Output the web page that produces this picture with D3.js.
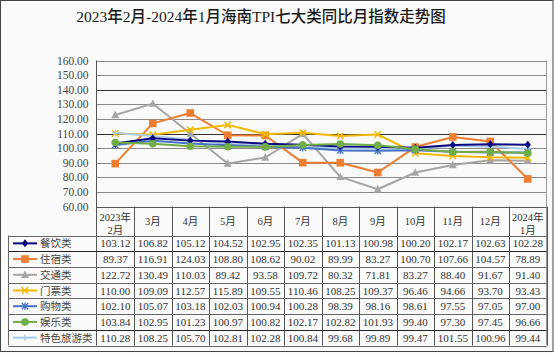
<!DOCTYPE html>
<html><head><meta charset="utf-8">
<script src="https://cdn.jsdelivr.net/npm/d3@7"></script>
<style>
html,body{margin:0;padding:0;background:#fff;}
svg{display:block;}
</style></head>
<body>
<svg id="chart" width="554" height="355"></svg>
<script>
const title = "2023年2月-2024年1月海南TPI七大类同比月指数走势图";
const months = ["2023年|2月","3月","4月","5月","6月","7月","8月","9月","10月","11月","12月","2024年|1月"];
const seriesNames = ["餐饮类","住宿类","交通类","门票类","购物类","娱乐类","特色旅游类"];
const canyin   = [103.12,106.82,105.12,104.52,102.95,102.35,101.13,100.98,100.20,102.17,102.63,102.28];
const zhusu    = [89.37,116.91,124.03,108.80,108.62,90.02,89.99,83.27,100.70,107.66,104.57,78.89];
const jiaotong = [122.72,130.49,110.03,89.42,93.58,109.72,80.32,71.81,83.27,88.40,91.67,91.40];
const menpiao  = [110.00,109.09,112.57,115.89,109.55,110.46,108.25,109.37,96.46,94.66,93.70,93.43];
const gouwu    = [102.10,105.07,103.18,102.03,100.94,100.28,98.39,98.16,98.61,97.55,97.05,97.00];
const yule     = [103.84,102.95,101.23,100.97,100.82,102.17,102.82,101.93,99.40,97.30,97.45,96.66];
const tese     = [110.28,108.25,105.70,102.81,102.28,100.84,99.68,99.89,99.47,101.55,100.96,99.44];
const yTicks = [60,70,80,90,100,110,120,130,140,150,160];

const seriesValues = [canyin, zhusu, jiaotong, menpiao, gouwu, yule, tese];
const colors = ["#0a0a80","#ED7D31","#A5A5A5","#F2B800","#4472C4","#70AD47","#A9CBEA"];
const markers = ["diamond","square","triangle","xmark","star","circle","plus"];

const svg = d3.select("#chart");
const W = 554, H = 355;
svg.append("rect").attr("x",0).attr("y",0).attr("width",W).attr("height",H).attr("fill","#fafafa");
svg.append("rect").attr("x",0.5).attr("y",0.5).attr("width",W-1.5).attr("height",351).attr("fill","none").attr("stroke","#444").attr("stroke-width",1);

const pLeft = 96.5, pRight = 546.5, pTop = 60.5, pBottom = 206.5;
const tableBottom = 345.5, headerBottom = 235.5, legendLeft = 8.5;

const x = d3.scaleBand().domain(months).range([pLeft, pRight]);
const y = d3.scaleLinear().domain([60,160]).range([pBottom, pTop]);

const serifFont = "'Liberation Serif','Noto Sans CJK SC',serif";
const cjkFont = "'Liberation Serif','Noto Sans CJK SC',serif";

// title
svg.append("text").attr("x",261).attr("y",22).attr("text-anchor","middle")
  .attr("font-family",cjkFont).attr("font-size",15.5).attr("fill","#1a1a1a").attr("font-weight","500")
  .text(title);

// gridlines
svg.append("g").selectAll("line").data(yTicks).join("line")
  .attr("x1",pLeft).attr("x2",pRight)
  .attr("y1",d=>Math.round(y(d))+0.5).attr("y2",d=>Math.round(y(d))+0.5)
  .attr("stroke",d=>(d===140||d===110)?"#333":"#8a8a8a").attr("stroke-width",1);

// y axis via d3.axisLeft
const yAxis = d3.axisLeft(y).tickValues(yTicks).tickFormat(d3.format(".2f")).tickSize(0).tickPadding(8);
const ya = svg.append("g").attr("transform",`translate(${pLeft},0)`).call(yAxis);
ya.select(".domain").remove();
ya.selectAll("text").attr("font-family",serifFont).attr("font-size",11.5).attr("fill","#444");

// plot borders
svg.append("line").attr("x1",pLeft).attr("x2",pLeft).attr("y1",pTop).attr("y2",tableBottom).attr("stroke","#555");
svg.append("line").attr("x1",pRight).attr("x2",pRight).attr("y1",pTop).attr("y2",tableBottom).attr("stroke","#999");

// table
const rowH = (tableBottom - headerBottom)/seriesNames.length;
const tg = svg.append("g");
tg.selectAll("line.col").data(months).join("line").attr("class","col")
  .attr("x1",d=>Math.round(x(d)+x.bandwidth())+0.5).attr("x2",d=>Math.round(x(d)+x.bandwidth())+0.5)
  .attr("y1",pBottom).attr("y2",tableBottom).attr("stroke","#555");
tg.append("line").attr("x1",pLeft).attr("x2",pRight).attr("y1",pBottom+1).attr("y2",pBottom+1).attr("stroke","#555");
const rowYs = d3.range(seriesNames.length+1).map(i=>headerBottom + i*rowH);
tg.selectAll("line.row").data(rowYs).join("line").attr("class","row")
  .attr("x1",legendLeft).attr("x2",pRight)
  .attr("y1",d=>Math.round(d)+0.5).attr("y2",d=>Math.round(d)+0.5)
  .attr("stroke",(d,i)=>(i===1||i===6)?"#222":"#666");
tg.append("line").attr("x1",legendLeft).attr("x2",legendLeft).attr("y1",headerBottom).attr("y2",tableBottom).attr("stroke","#666");

// header labels
months.forEach(m=>{
  const parts = m.split("|");
  const cx = x(m)+x.bandwidth()/2;
  const t = tg.append("text").attr("text-anchor","middle").attr("font-family",cjkFont)
    .attr("font-size",10.5).attr("fill","#333");
  if(parts.length===2){
    t.append("tspan").attr("x",cx).attr("y",221).text(parts[0]);
    t.append("tspan").attr("x",cx).attr("y",234).text(parts[1]);
  } else {
    t.attr("x",cx).attr("y",225).text(parts[0]);
  }
});

function drawMarker(g, type, cx, cy, color){
  const s = 3.2;
  if(type==="diamond"){
    g.append("path").attr("d",`M${cx},${cy-s-0.8}L${cx+s},${cy}L${cx},${cy+s+0.8}L${cx-s},${cy}Z`).attr("fill",color);
  } else if(type==="square"){
    g.append("rect").attr("x",cx-s-0.6).attr("y",cy-s-0.6).attr("width",2*s+1.2).attr("height",2*s+1.2).attr("fill",color);
  } else if(type==="triangle"){
    g.append("path").attr("d",`M${cx},${cy-s-1}L${cx+s+0.8},${cy+s}L${cx-s-0.8},${cy+s}Z`).attr("fill",color);
  } else if(type==="xmark"){
    g.append("path").attr("d",`M${cx-s},${cy-s}L${cx+s},${cy+s}M${cx-s},${cy+s}L${cx+s},${cy-s}`).attr("stroke",color).attr("stroke-width",1.5);
  } else if(type==="star"){
    g.append("path").attr("d",`M${cx-s},${cy-s}L${cx+s},${cy+s}M${cx-s},${cy+s}L${cx+s},${cy-s}M${cx},${cy-s-0.5}L${cx},${cy+s+0.5}`).attr("stroke",color).attr("stroke-width",1.3);
  } else if(type==="circle"){
    g.append("circle").attr("cx",cx).attr("cy",cy).attr("r",s+0.6).attr("fill",color);
  } else if(type==="plus"){
    g.append("path").attr("d",`M${cx-s},${cy}L${cx+s},${cy}M${cx},${cy-s}L${cx},${cy+s}`).attr("stroke",color).attr("stroke-width",1.3);
  }
}

seriesNames.forEach((name,i)=>{
  const ry = headerBottom + i*rowH;
  const cy = ry + rowH/2;
  const lg = tg.append("g");
  lg.append("line").attr("x1",13).attr("x2",37).attr("y1",cy).attr("y2",cy).attr("stroke",colors[i]).attr("stroke-width",2);
  drawMarker(lg, markers[i], 25, cy, colors[i]);
  tg.append("text").attr("x",40).attr("y",cy+4).attr("font-family",cjkFont).attr("font-size",10.5)
    .attr("fill","#444").text(name);
  tg.selectAll(null).data(seriesValues[i]).join("text")
    .attr("x",(d,j)=>x(months[j])+x.bandwidth()/2).attr("y",cy+4)
    .attr("text-anchor","middle").attr("font-family",serifFont).attr("font-size",11)
    .attr("fill","#333").text(d=>d.toFixed(2));
});

const line = d3.line().x((d,j)=>x(months[j])+x.bandwidth()/2).y(d=>y(d));
const order = [2,1,3,6,4,0,5];
order.forEach(i=>{
  const g = svg.append("g");
  g.append("path").datum(seriesValues[i]).attr("d",line).attr("fill","none")
    .attr("stroke",colors[i]).attr("stroke-width",2).attr("stroke-linejoin","round");
  seriesValues[i].forEach((v,j)=>drawMarker(g, markers[i], x(months[j])+x.bandwidth()/2, y(v), colors[i]));
});
</script>
</body></html>
